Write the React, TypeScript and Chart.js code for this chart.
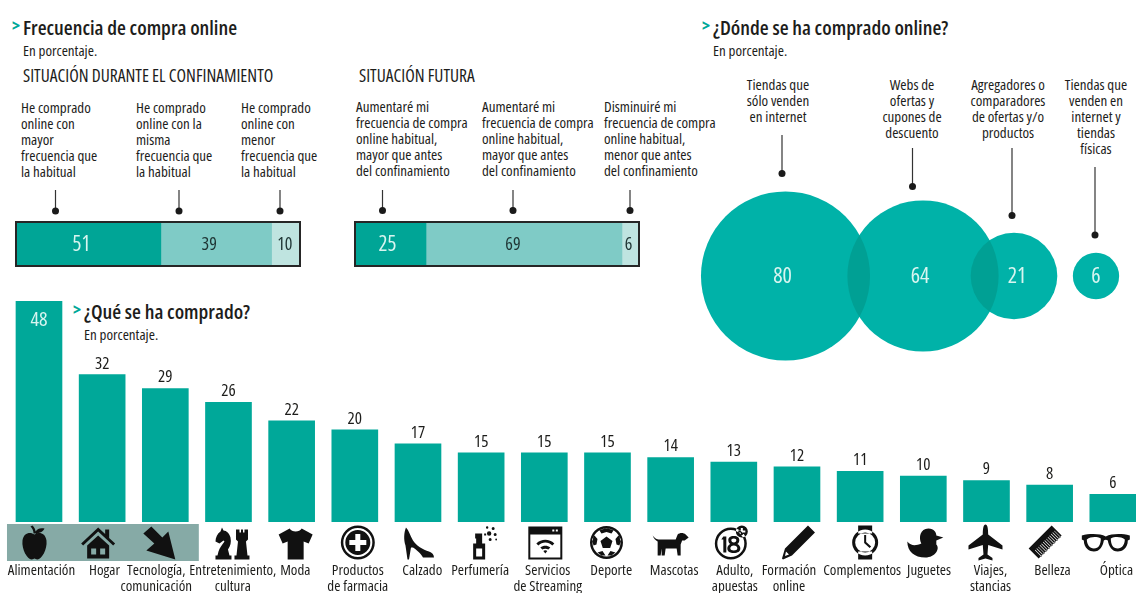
import React, { useEffect, useRef } from "react";
import { Chart, registerables } from "chart.js";

Chart.register(...registerables);

const FONT = '"Open Sans", sans-serif';
const STRETCH = "condensed";
const INK = "#1d1d1b";

// ---------- data ----------
const purchaseCategories: string[][] = [
  ["Alimentación"], ["Hogar"], ["Tecnología,", "comunicación"], ["Entretenimiento,", "cultura"], ["Moda"],
  ["Productos", "de farmacia"], ["Calzado"], ["Perfumería"], ["Servicios", "de Streaming"], ["Deporte"],
  ["Mascotas"], ["Adulto,", "apuestas"], ["Formación", "online"], ["Complementos"], ["Juguetes"],
  ["Viajes,", "stancias"], ["Belleza"], ["Óptica"],
];
const purchaseValues = [48, 32, 29, 26, 22, 20, 17, 15, 15, 15, 14, 13, 12, 11, 10, 9, 8, 6];

const duringValues = [51, 39, 10];
const futureValues = [25, 69, 6];

const whereValues = [80, 64, 21, 6];
const whereAxisPositions = [95.5, 233, 324, 406];
const whereRowPosition = 94;

const duringCaptions = [
  ["He comprado", "online con", "mayor", "frecuencia que", "la habitual"],
  ["He comprado", "online con la", "misma", "frecuencia que", "la habitual"],
  ["He comprado", "online con", "menor", "frecuencia que", "la habitual"],
];
const futureCaptions = [
  ["Aumentaré mi", "frecuencia de compra", "online habitual,", "mayor que antes", "del confinamiento"],
  ["Aumentaré mi", "frecuencia de compra", "online habitual,", "mayor que antes", "del confinamiento"],
  ["Disminuiré mi", "frecuencia de compra", "online habitual,", "menor que antes", "del confinamiento"],
];
const whereCaptions = [
  ["Tiendas que", "sólo venden", "en internet"],
  ["Webs de", "ofertas y", "cupones de", "descuento"],
  ["Agregadores o", "comparadores", "de ofertas y/o", "productos"],
  ["Tiendas que", "venden en", "internet y", "tiendas", "físicas"],
];

// ---------- styles ----------
const TEAL_BAR = "#00a899";
const SEG_COLORS = ["#00a596", "#7fcbc6", "#bfe4e0"];
const SEG_TEXT = ["#d8f5f0", "#1f3534", "#1f3534"];
const BUBBLE = "#00b2a8";
const BUBBLE_OVERLAP = "#00a094";
const BUBBLE_K = 9.45;
const tickLabelShift = [2.5, 2.3, -9, 4.4, 3.7, 3, 4.3, -1, 3.4, 3.7, 3.5, 1, -8, 2, 5.7, 4, 2.8, 3.6];

// ---------- icons (36x36 box, even-odd fill) ----------
const circ = (cx: number, cy: number, r: number) =>
  `M${cx - r} ${cy}a${r} ${r} 0 1 0 ${2 * r} 0a${r} ${r} 0 1 0 ${-2 * r} 0Z`;
const combTeeth = Array.from({ length: 13 }, (_, i) => {
  const x = 25 - (i + 1) * 1.6;
  const y = 1 + (i + 1) * 1.6;
  return `M${x + 4} ${y + 4}l.45 -.45l6.5 6.5l-.45 .45Z`;
}).join("");
const iconPaths: { d: string; dx: number }[] = [
  { dx: -4.5, d: "M18 10C14 7 7 8 6 16C5 25 11 35 15 35C17 35 17 34 18 34C19 34 19 35 21 35C25 35 31 25 30 16C29 8 22 7 18 10ZM17 9C17 6 16 4 14 2L16 1C18 3 19 5 19 7C21 4 24 3 28 4C27 7 23 9 17 9Z" },
  { dx: -4, d: "M18 3L1 19L3 21L18 7L33 21L35 19L29 13.5V5H25V9.5ZM7 21L18 11L29 21V34H7ZM11 24V30H16V24ZM20 24V30H25V24Z" },
  { dx: -6, d: "M10 2L21 13L27 7L34 35L5 26L13 19L2 9Z" },
  { dx: 4, d: "M1 35H17V31H15L13.5 25C16 21 17 18 16 13C15 9 12 6 9 6L7.5 3L6 7C3 9 1 13 1 17L5 19L9 16L10 17C8 20 5 23 4 27L3 31H1ZM20 35H35V31H33L31.5 17L33.5 15V5H30V8H28.5V5H26.5V8H25V5H21.5V15L23.5 17L22 31H20Z" },
  { dx: 4, d: "M12 4L1 10L5 19L10 17V35H26V17L31 19L35 10L24 4C22 8 14 8 12 4Z" },
  { dx: 3, d: `${circ(18, 18, 17)}${circ(18, 18, 14.5)}${circ(18, 18, 12.5)}M15.5 9.5H20.5V15.5H26.5V20.5H20.5V26.5H15.5V20.5H9.5V15.5H15.5Z` },
  { dx: 0, d: "M6 3C9 6 10 11 13 16C16 21 23 25 29 27C32 28 34 30 34 33H23C21 29 16 25 13 23L11 23L9 35H7.5L5.5 21C3.5 15 4 8 6 3Z" },
  { dx: 0, d: `M10 19H22V35H10ZM13 24V32H19V24ZM13 14H19V19H13ZM12 9H19V14H12ZM21 9h2v2h-2Z${circ(26, 9, 2.2)}${circ(24, 3, 1.2)}${circ(30, 4, 1.5)}${circ(32, 10, 1.5)}${circ(27, 15, 1.5)}${circ(33, 15, .9)}` },
  { dx: 1, d: `M1 2H35V35H1ZM3 10V33H33V10ZM25 5V7H27V5ZM28.5 5V7H30.5V5ZM9 19C14 14 22 14 27 19L25 21C21 17 15 17 11 21ZM13 23C16 20.5 20 20.5 23 23L21 25C19.5 24 16.5 24 15 25ZM16 26.5C17 25.5 19 25.5 20 26.5L18 29Z` },
  { dx: -1, d: `${circ(18, 18, 16.5)}${circ(18, 18, 14)}M18 12L24 16.5L21.7 23.5H14.3L12 16.5ZM11 6C15 3.5 21 3.5 25 6L23 9L18 7.5L13 9ZM3.5 15L6 11L9 14.5L8 20L5 21ZM32.5 15L30 11L27 14.5L28 20L31 21ZM9 28L14 26.5L17 31L13 31ZM27 28L22 26.5L19 31L23 31Z` },
  { dx: 0, d: "M0 11C3 15 5 15 8 15H23L25 10C27 8 31 8 33 10L36 13L32 16H29.5L28 20V31H25L24 24H13L12 31H9V24L8 31H5V20L5 17C3 16 1 14 0 11Z" },
  { dx: -1, d: `${circ(16, 19, 16)}${circ(16, 19, 13.5)}M8.5 12H11.5V28H8.5V15H6.5ZM19 11.5C23 11.5 24.5 13.5 24.5 15.5C24.5 17 24 18.5 22.5 19.5C24.5 20.5 25.5 22 25.5 24C25.5 27 23 28.5 19 28.5C15 28.5 12.5 27 12.5 24C12.5 22 13.5 20.5 15.5 19.5C14 18.5 13.5 17 13.5 15.5C13.5 13.5 15 11.5 19 11.5ZM19 14C17.3 14 16.5 14.7 16.5 15.8C16.5 17 17.3 18 19 18C20.7 18 21.5 17 21.5 15.8C21.5 14.7 20.7 14 19 14ZM19 21C17 21 15.5 22.2 15.5 23.8C15.5 25.2 17 26 19 26C21 26 22.5 25.2 22.5 23.8C22.5 22.2 21 21 19 21Z${circ(27, 7, 6)}M26 3.5H28V6H30.5V8H28V10.5H26V8H23.5V6H26Z` },
  { dx: 1, d: "M28 1L35 8L12 31L3 35L2 34L5 24ZM6 27L5 31.5L9 30Z" },
  { dx: 5, d: `M11 1H25V9H11ZM11 27H25V35H11Z${circ(18, 18, 13)}${circ(18, 18, 10)}M17 10.5H19V17.5L24 22L22.5 23.5L17 18.5Z` },
  { dx: 2, d: "M0 17C4 22 9 21 14 19C11 13 13 4 21 4C27 4 29 8 29 11L36 13L29 16C29 17 29 19 29 20C33 24 28 33 18 33C7 33 0 27 0 17Z" },
  { dx: -1, d: "M18 0C20 0 20.7 4 20.7 10L35 21V25L20.7 20.5L20 30L25 33.5V36L18 34L11 36V33.5L16 30L15.3 20.5L1 25V21L15.3 10C15.3 4 16 0 18 0Z" },
  { dx: -5, d: `M25 1L35 11L12 34L2 24Z${combTeeth}` },
  { dx: -7, d: `M-6 11C2 9 12 9 18 12C24 9 34 9 42 11V15L40 16C40 24 34 27 30 27C24 27 21 22 20 16C19 15 17 15 16 16C15 22 12 27 6 27C2 27 -4 24 -4 16L-6 15ZM-1 15C-1 20 2 24 6 24C11 24 13 20 13 14C9 12 3 12 -1 15ZM23 14C23 20 25 24 30 24C34 24 37 20 37 15C33 12 27 12 23 14Z` },
];

// ---------- layout of annotations ----------
type Callout = { x: number; y1: number; y2: number };
const callouts: Callout[] = [
  { x: 55.5, y1: 190, y2: 211 }, { x: 179, y1: 190, y2: 211 }, { x: 280, y1: 190, y2: 211 },
  { x: 382.5, y1: 190, y2: 210.5 }, { x: 513, y1: 190, y2: 210.5 }, { x: 630, y1: 190, y2: 210.5 },
  { x: 782, y1: 135, y2: 173.5 }, { x: 912.5, y1: 148, y2: 186.5 }, { x: 1012, y1: 148, y2: 215.5 }, { x: 1095, y1: 167, y2: 235 },
];

const setFont = (ctx: any, size: number, weight = 400) => {
  ctx.font = `${weight} ${STRETCH} ${size}px ${FONT}`;
};

// ---------- plugins ----------
const frame = {
  id: "frame",
  afterDraw(chart: any) {
    const { ctx, chartArea: a } = chart;
    ctx.save();
    ctx.strokeStyle = "#262626";
    ctx.lineWidth = 2;
    ctx.strokeRect(a.left, a.top, a.right - a.left, a.bottom - a.top);
    ctx.restore();
  },
};

const segmentLabels = (nudges: number[]) => ({
  id: "segmentLabels",
  afterDatasetsDraw(chart: any) {
    const { ctx } = chart;
    ctx.save();
    ctx.textAlign = "center";
    ctx.textBaseline = "middle";
    chart.data.datasets.forEach((ds: any, i: number) => {
      const el = chart.getDatasetMeta(i).data[0];
      const mid = (el.base + el.x) / 2;
      ctx.fillStyle = SEG_TEXT[i];
      setFont(ctx, i === 0 ? 21 : 18, i === 0 ? 400 : 500);
      ctx.fillText(String(ds.data[0]), mid + nudges[i], el.y + 1);
    });
    ctx.restore();
  },
});

const bubbleDecor = {
  id: "bubbleDecor",
  afterDatasetsDraw(chart: any) {
    const { ctx } = chart;
    const els = chart.getDatasetMeta(0).data;
    for (let i = 0; i < els.length - 1; i++) {
      const a = els[i];
      const b = els[i + 1];
      ctx.save();
      ctx.beginPath();
      ctx.arc(a.x, a.y, a.options.radius, 0, Math.PI * 2);
      ctx.clip();
      ctx.beginPath();
      ctx.arc(b.x, b.y, b.options.radius, 0, Math.PI * 2);
      ctx.fillStyle = BUBBLE_OVERLAP;
      ctx.fill();
      ctx.restore();
    }
    ctx.save();
    ctx.textAlign = "center";
    ctx.textBaseline = "middle";
    ctx.fillStyle = "#d8f5f0";
    setFont(ctx, 22);
    els.forEach((el: any, i: number) => {
      const nudge = [-3, -3, 3, 0][i];
      ctx.fillText(String(whereValues[i]), el.x + nudge, el.y + 1);
    });
    ctx.restore();
  },
};

const barDecor = {
  id: "barDecor",
  beforeDraw(chart: any) {
    chart.scales.x.getLabelItems(chart.chartArea).forEach((item: any, i: number) => {
      if (!item.shifted) {
        item.options.translation[0] += tickLabelShift[i];
        item.shifted = true;
      }
    });
  },
  beforeDatasetsDraw(chart: any) {
    const { ctx, scales, chartArea } = chart;
    const x = scales.x;
    ctx.save();
    ctx.fillStyle = "#86aaa6";
    const left = x.getPixelForValue(0) - 32;
    const right = x.getPixelForValue(2) + 33.5;
    ctx.fillRect(left, chartArea.bottom + 2, right - left, 37);
    ctx.restore();
  },
  afterDatasetsDraw(chart: any) {
    const { ctx, scales, chartArea } = chart;
    const x = scales.x;
    const meta = chart.getDatasetMeta(0).data;
    ctx.save();
    ctx.textAlign = "center";
    ctx.textBaseline = "middle";
    meta.forEach((el: any, i: number) => {
      if (i === 0) {
        ctx.fillStyle = "#d8f5f0";
        setFont(ctx, 20);
        ctx.fillText(String(purchaseValues[i]), el.x, el.y + 19);
      } else {
        ctx.fillStyle = INK;
        setFont(ctx, 17);
        ctx.fillText(String(purchaseValues[i]), el.x, el.y - 11);
      }
    });
    ctx.fillStyle = "#111";
    iconPaths.forEach((icon, i) => {
      ctx.save();
      ctx.translate(x.getPixelForValue(i) - 18 + icon.dx, chartArea.bottom + 2.5);
      ctx.fill(new Path2D(icon.d), "evenodd");
      ctx.restore();
    });
    ctx.restore();
  },
};

// ---------- chart configs ----------
const stackedConfig = (values: number[], nudges: number[]) => ({
  type: "bar",
  data: {
    labels: [""],
    datasets: values.map((v, i) => ({
      data: [v],
      backgroundColor: SEG_COLORS[i],
      borderWidth: 0,
      categoryPercentage: 1,
      barPercentage: 1,
    })),
  },
  options: {
    indexAxis: "y",
    responsive: false,
    animation: false,
    events: [],
    layout: { padding: 2 },
    plugins: { legend: { display: false }, tooltip: { enabled: false } },
    scales: {
      x: { stacked: true, min: 0, max: 100, display: false },
      y: { stacked: true, display: false },
    },
  },
  plugins: [segmentLabels(nudges), frame],
});

const bubbleConfig = () => ({
  type: "bubble",
  data: {
    datasets: [
      {
        data: whereValues.map((v, i) => ({
          x: whereAxisPositions[i],
          y: whereRowPosition,
          r: BUBBLE_K * Math.sqrt(v),
        })),
        backgroundColor: BUBBLE,
        borderWidth: 0,
      },
    ],
  },
  options: {
    responsive: false,
    animation: false,
    events: [],
    clip: false,
    layout: { padding: 0, autoPadding: false },
    plugins: { legend: { display: false }, tooltip: { enabled: false } },
    scales: {
      x: { type: "linear", min: 0, max: 446, display: false },
      y: { type: "linear", min: 0, max: 190, display: false },
    },
  },
  plugins: [bubbleDecor],
});

const barConfig = () => ({
  type: "bar",
  data: {
    labels: purchaseCategories,
    datasets: [
      {
        data: purchaseValues,
        backgroundColor: TEAL_BAR,
        borderWidth: 0,
        barThickness: 46,
      },
    ],
  },
  options: {
    responsive: false,
    animation: false,
    events: [],
    layout: { padding: { left: 7.4, right: 5.6, top: 11, bottom: 0 } },
    plugins: { legend: { display: false }, tooltip: { enabled: false } },
    scales: {
      x: {
        grid: { display: false, drawTicks: false },
        border: { display: false },
        ticks: {
          color: INK,
          font: { family: FONT, size: 15, weight: STRETCH, lineHeight: 1.05 },
          autoSkip: false,
          maxRotation: 0,
          minRotation: 0,
          padding: 41,
        },
        afterFit(s: any) {
          s.height = 71;
          s.paddingLeft = 0;
          s.paddingRight = 0;
        },
      },
      y: { min: 0, max: 48, display: false },
    },
  },
  plugins: [barDecor],
});

// ---------- components ----------
function ChartBox({ x, y, w, h, make }: { x: number; y: number; w: number; h: number; make: () => any }) {
  const ref = useRef<HTMLCanvasElement>(null);
  useEffect(() => {
    const chart = new Chart(ref.current as HTMLCanvasElement, make());
    return () => chart.destroy();
  }, []);
  return (
    <canvas
      ref={ref}
      width={w}
      height={h}
      style={{ position: "absolute", left: x, top: y, width: w, height: h, display: "block" }}
    />
  );
}

function Lines({ x, y, lines, align = "left", size = 15 }: { x: number; y: number; lines: string[]; align?: "left" | "center"; size?: number }) {
  const style: React.CSSProperties = {
    position: "absolute",
    top: y,
    left: x,
    lineHeight: "16px",
    fontSize: size,
    color: INK,
    whiteSpace: "nowrap",
    textAlign: align,
    transform: align === "center" ? "translateX(-50%)" : undefined,
  };
  return (
    <div style={style}>
      {lines.map((l, i) => (
        <div key={i}>{l}</div>
      ))}
    </div>
  );
}

function Heading({ x, y, text }: { x: number; y: number; text: string }) {
  return (
    <>
      <div style={{ position: "absolute", left: x - 11, top: y - 1, fontSize: 17, lineHeight: "26px", color: "#00a899", fontWeight: 700 }}>&gt;</div>
      <div style={{ position: "absolute", left: x, top: y, fontSize: 20.4, lineHeight: "26px", color: INK, whiteSpace: "nowrap", fontWeight: 600 }}>{text}</div>
    </>
  );
}

function Caps({ x, y, text }: { x: number; y: number; text: string }) {
  return <div style={{ position: "absolute", left: x, top: y, fontSize: 17.5, lineHeight: "20px", color: INK, whiteSpace: "nowrap", fontWeight: 500 }}>{text}</div>;
}

export default function App() {
  return (
    <div style={{ position: "fixed", left: 0, top: 0, width: 1136, height: 593, overflow: "hidden", background: "#fff", fontFamily: FONT, fontStretch: "75%" }}>
      <Heading x={23} y={13.5} text="Frecuencia de compra online" />
      <Lines x={23} y={42} lines={["En porcentaje."]} />
      <Caps x={23} y={64.5} text="SITUACIÓN DURANTE EL CONFINAMIENTO" />
      <Caps x={359} y={64.5} text="SITUACIÓN FUTURA" />
      {duringCaptions.map((c, i) => <Lines key={i} x={[21, 136, 241][i]} y={98.5} lines={c} />)}
      {futureCaptions.map((c, i) => <Lines key={i} x={[356, 482, 604][i]} y={97.5} lines={c} />)}
      <Heading x={713} y={13.5} text="¿Dónde se ha comprado online?" />
      <Lines x={713} y={42} lines={["En porcentaje."]} />
      {whereCaptions.map((c, i) => <Lines key={i} x={[778, 912, 1008, 1096][i]} y={75.5} lines={c} align="center" />)}
      <Heading x={84} y={297.5} text="¿Qué se ha comprado?" />
      <Lines x={84} y={326} lines={["En porcentaje."]} />

      <ChartBox x={14} y={220} w={288} h={48} make={() => stackedConfig(duringValues, [-7, -7, -1])} />
      <ChartBox x={352.5} y={220} w={288} h={48} make={() => stackedConfig(futureValues, [-3, -11, -2])} />
      <ChartBox x={690} y={180} w={446} h={190} make={bubbleConfig} />
      <ChartBox x={0} y={290} w={1150} h={303} make={barConfig} />

      <svg width={1136} height={593} style={{ position: "absolute", left: 0, top: 0, pointerEvents: "none" }}>
        {callouts.map((c, i) => (
          <g key={i}>
            <line x1={c.x} x2={c.x} y1={c.y1} y2={c.y2} stroke="#333" strokeWidth={1.2} />
            <circle cx={c.x} cy={c.y2} r={3.5} fill="#1a1a1a" />
          </g>
        ))}
      </svg>
    </div>
  );
}
